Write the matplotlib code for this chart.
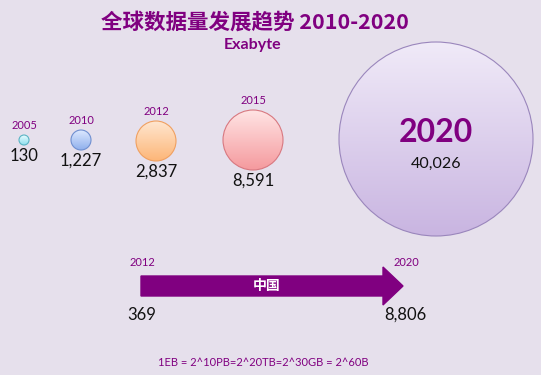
import matplotlib
matplotlib.use('Agg')

import matplotlib.pyplot as plt
from matplotlib.patches import Circle, FancyArrow
import numpy as np

# data
years = ['2005', '2010', '2012', '2015', '2020']
values = [130, 1227, 2837, 8591, 40026]
china_years = ['2012', '2020']
china_values = [369, 8806]

title = '全球数据量发展趋势 2010-2020'
unit = 'Exabyte'
note = '1EB = 2^10PB=2^20TB=2^30GB = 2^60B'

# layout (pixel coords)
cx = [24, 81, 156, 253, 436]
cy = [140, 140, 141, 140, 139]
radius = [5, 10, 20, 30, 97]
top_cols = ['#e8fbff', '#dce8ff', '#ffe6cf', '#ffe4e4', '#f0eaf8']
bot_cols = ['#8fe0ee', '#90b0ec', '#fdb678', '#f59a9e', '#c9b5e1']
edge_cols = ['#5ab4c4', '#6f8fd0', '#f0a060', '#d87880', '#9a86bc']

purple = '#800080'
bg = '#e6e0ec'
cjk = ['Noto Sans CJK SC', 'DejaVu Sans']
num_font = ['Lato', 'DejaVu Sans']

fig = plt.figure(figsize=(5.41, 3.75), dpi=100, facecolor=bg)
ax = fig.add_axes([0, 0, 1, 1])
ax.set_facecolor(bg)
ax.axis('off')


def gradient_circle(x, y, r, c_top, c_bot, c_edge):
    t = np.linspace(0, 1, 64).reshape(-1, 1)
    a = np.array(matplotlib.colors.to_rgb(c_top))
    b = np.array(matplotlib.colors.to_rgb(c_bot))
    img = (a * (1 - t) + b * t).reshape(64, 1, 3)
    im = ax.imshow(img, extent=(x - r, x + r, y + r, y - r), aspect='auto',
                   interpolation='bilinear', zorder=2)
    clip = Circle((x, y), r, transform=ax.transData)
    im.set_clip_path(clip)
    ax.add_patch(Circle((x, y), r, fill=False, ec=c_edge, lw=0.8, zorder=3))


for i in range(len(years)):
    gradient_circle(cx[i], cy[i], radius[i], top_cols[i], bot_cols[i], edge_cols[i])

ax.set_xlim(0, 541)
ax.set_ylim(375, 0)

# labels for small circles
for i in range(4):
    ax.text(cx[i], cy[i] - radius[i] - 4, years[i], color=purple, fontsize=8,
            family=num_font, ha='center', va='bottom', zorder=4)
    ax.text(cx[i], cy[i] + radius[i] + 3, f'{values[i]:,}', color='#111111',
            fontsize=12, family=num_font, ha='center', va='top', zorder=4)

# big circle
ax.text(cx[4], cy[4] - 6, years[4], color=purple, fontsize=23, fontweight='bold',
        family=num_font, ha='center', va='center', zorder=4)
ax.text(cx[4], cy[4] + 25, f'{values[4]:,}', color='#111111', fontsize=11.5,
        family=num_font, ha='center', va='center', zorder=4)

# title
ax.text(255, 22, title, color=purple, fontsize=15.5, fontweight='bold',
        family=cjk, ha='center', va='center')
ax.text(253, 45, unit, color=purple, fontsize=11.5, fontweight='bold',
        family=num_font, ha='center', va='center')

# china arrow
x0, x1 = 141, 403
ay = 286
ax.add_patch(FancyArrow(x0, ay, x1 - x0, 0, width=20, head_width=38,
                        head_length=20, length_includes_head=True,
                        fc=purple, ec=purple, zorder=3))
ax.text(267, ay, '中国', color='white', fontsize=10,
        fontweight='bold', family=cjk, ha='center', va='center', zorder=4)
ax.text(142, 263, china_years[0], color=purple, fontsize=8, family=num_font,
        ha='center', va='center')
ax.text(406, 263, china_years[1], color=purple, fontsize=8, family=num_font,
        ha='center', va='center')
ax.text(142, 315, f'{china_values[0]:,}', color='#111111', fontsize=12,
        family=num_font, ha='center', va='center')
ax.text(405, 315, f'{china_values[1]:,}', color='#111111', fontsize=12,
        family=num_font, ha='center', va='center')

ax.text(263, 362, note, color=purple, fontsize=8, family=num_font,
        ha='center', va='center')

fig.savefig('out.png', dpi=100, facecolor=bg)
